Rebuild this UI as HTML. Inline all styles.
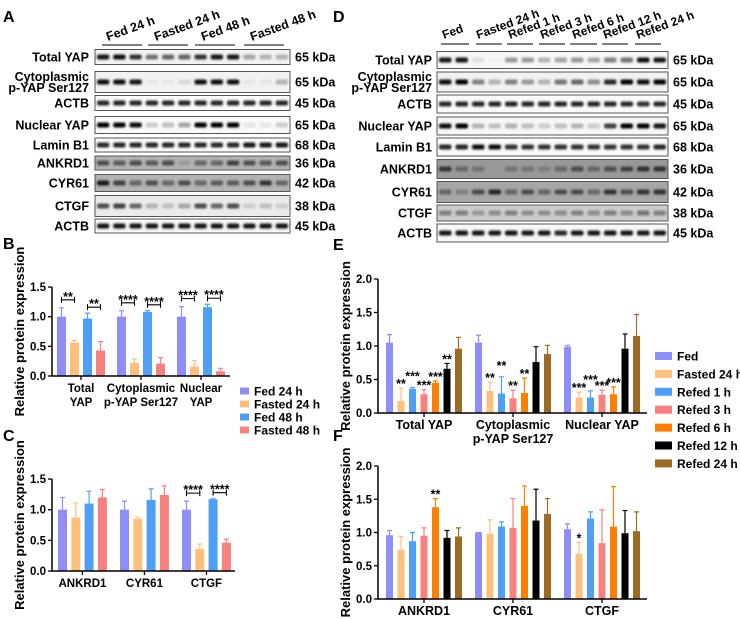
<!DOCTYPE html>
<html><head><meta charset="utf-8">
<style>
html,body{margin:0;padding:0;background:#fff;}
svg{display:block;font-family:"Liberation Sans",Arial,sans-serif;font-weight:bold;}
</style></head>
<body>
<svg id="fig" width="740" height="619" viewBox="0 0 740 619" xmlns="http://www.w3.org/2000/svg">
<defs>
<filter id="blur" x="-20%" y="-50%" width="140%" height="200%"><feGaussianBlur stdDeviation="1.1"/></filter>
</defs>
<text x="3" y="22" font-size="16">A</text>
<text x="333" y="22" font-size="16">D</text>
<text x="3" y="249" font-size="16">B</text>
<text x="333" y="250" font-size="16">E</text>
<text x="3" y="441" font-size="16">C</text>
<text x="333" y="441" font-size="16">F</text>
<g id="blots"></g>
<g id="charts"></g>
</svg>
<script>
// ---------------- Chart data ----------------
const bCategories = [["Total","YAP"],["Cytoplasmic","p-YAP Ser127"],["Nuclear","YAP"]];
const bSeriesNames = ["Fed 24 h","Fasted 24 h","Fed 48 h","Fasted 48 h"];
const bFed24 = [1.0, 1.0, 1.0];
const bFed24Err = [0.15, 0.10, 0.17];
const bFasted24 = [0.56, 0.22, 0.16];
const bFasted24Err = [0.04, 0.07, 0.10];
const bFed48 = [0.97, 1.08, 1.16];
const bFed48Err = [0.09, 0.02, 0.05];
const bFasted48 = [0.43, 0.21, 0.08];
const bFasted48Err = [0.15, 0.10, 0.05];
const bSig = [[0,0,1,"**"],[0,2,3,"**"],[1,0,1,"****"],[1,2,3,"****"],[2,0,1,"****"],[2,2,3,"****"]];

const cCategories = [["ANKRD1"],["CYR61"],["CTGF"]];
const cFed24 = [1.0, 1.0, 1.0];
const cFed24Err = [0.20, 0.14, 0.14];
const cFasted24 = [0.87, 0.85, 0.36];
const cFasted24Err = [0.24, 0.03, 0.08];
const cFed48 = [1.10, 1.16, 1.17];
const cFed48Err = [0.20, 0.18, 0.01];
const cFasted48 = [1.20, 1.24, 0.46];
const cFasted48Err = [0.13, 0.15, 0.06];
const cSig = [[2,0,1,"****"],[2,2,3,"****"]];

const eCategories = [["Total YAP"],["Cytoplasmic","p-YAP Ser127"],["Nuclear YAP"]];
const eSeriesNames = ["Fed","Fasted 24 h","Refed 1 h","Refed 3 h","Refed 6 h","Refed 12 h","Refed 24 h"];
const eFed = [1.05, 1.05, 0.99];
const eFedErr = [0.12, 0.11, 0.02];
const eFasted = [0.18, 0.33, 0.23];
const eFastedErr = [0.19, 0.13, 0.08];
const eRefed1 = [0.36, 0.29, 0.23];
const eRefed1Err = [0.02, 0.25, 0.10];
const eRefed3 = [0.28, 0.22, 0.27];
const eRefed3Err = [0.07, 0.12, 0.07];
const eRefed6 = [0.45, 0.30, 0.28];
const eRefed6Err = [0.03, 0.22, 0.11];
const eRefed12 = [0.66, 0.76, 0.96];
const eRefed12Err = [0.08, 0.23, 0.22];
const eRefed24 = [0.96, 0.88, 1.15];
const eRefed24Err = [0.17, 0.13, 0.32];
const eStars = [["","**","***","***","***","**",""],["","**","**","**","**","",""],["","***","***","***","***","",""]];

const fCategories = [["ANKRD1"],["CYR61"],["CTGF"]];
const fFed = [0.96, 1.0, 1.05];
const fFedErr = [0.07, 0.0, 0.08];
const fFasted = [0.74, 0.98, 0.68];
const fFastedErr = [0.20, 0.21, 0.17];
const fRefed1 = [0.87, 1.09, 1.21];
const fRefed1Err = [0.13, 0.07, 0.10];
const fRefed3 = [0.95, 1.07, 0.84];
const fRefed3Err = [0.12, 0.44, 0.50];
const fRefed6 = [1.38, 1.40, 1.09];
const fRefed6Err = [0.13, 0.30, 0.60];
const fRefed12 = [0.92, 1.18, 0.99];
const fRefed12Err = [0.11, 0.47, 0.34];
const fRefed24 = [0.94, 1.28, 1.02];
const fRefed24Err = [0.13, 0.23, 0.29];
const fStars = [["","","","","**","",""],["","","","","","",""],["","*","","","","",""]];

const yTicksBC = [0, 0.5, 1.0, 1.5];
const yTickLabelsBC = ["0.0","0.5","1.0","1.5"];
const yTicksEF = [0, 0.5, 1.0, 1.5, 2.0];
const yTickLabelsEF = ["0.0","0.5","1.0","1.5","2.0"];

const colors4 = ["#8e8ef9","#ffc07c","#4f9ff6","#f8807f"];
const colors7 = ["#8e8ef9","#ffc07c","#4f9ff6","#f8807f","#ff7f00","#000000","#9c6a22"];

const NS = "http://www.w3.org/2000/svg";
function el(tag, attrs, parent, text){
  const e = document.createElementNS(NS, tag);
  for (const k in attrs) e.setAttribute(k, attrs[k]);
  if (text !== undefined) e.textContent = text;
  parent.appendChild(e);
  return e;
}
const charts = document.getElementById("charts");

function drawChart(cfg, cats, series, errs, colors, yTicks, yLabels){
  const g = el("g", {}, charts);
  
  
  const yOf = v => cfg.y0 - v * cfg.unit;
  const xOf = (gi, si) => cfg.x0 + cfg.first + gi * cfg.groupPitch + si * cfg.barPitch;
  for (let s = 0; s < series.length; s++){
    for (let c = 0; c < cats.length; c++){
      const v = series[s][c], e = errs[s][c];
      const x = xOf(c, s);
      const r = el("rect", {x:x, y:yOf(v), width:cfg.barW, height:v*cfg.unit, fill:colors[s]}, g);
      
      
      const cx = x + cfg.barW/2;
      const eb = el("path", {d:`M${cx},${yOf(v)}V${yOf(v+e)}M${cx-2.5},${yOf(v+e)}H${cx+2.5}`, stroke:colors[s], "stroke-width":1.2, fill:"none"}, g);
      
      
    }
  }
  const ax = el("path", {d:`M${cfg.x0},${yOf(yTicks[yTicks.length-1])}V${cfg.y0}H${cfg.xEnd}`, stroke:"#000", "stroke-width":1.5, fill:"none"}, g);
  
  
  for (let i = 0; i < yTicks.length; i++){
    const y = yOf(yTicks[i]);
    el("line", {x1:cfg.x0-4, x2:cfg.x0, y1:y, y2:y, stroke:"#000", "stroke-width":1.3}, g);
    const t = el("text", {x:cfg.x0-6, y:y+4, "text-anchor":"end", "font-size":11.5}, g, yLabels[i]);
    
    
  }
  const span = (series.length - 1) * cfg.barPitch + cfg.barW;
  for (let c = 0; c < cats.length; c++){
    const cx = xOf(c, 0) + span/2;
    el("line", {x1:cx, x2:cx, y1:cfg.y0, y2:cfg.y0+4, stroke:"#000", "stroke-width":1.3}, g);
    for (let l = 0; l < cats[c].length; l++){
      const t = el("text", {x:cx, y:cfg.y0+16+l*14, "text-anchor":"middle", "font-size":cfg.catFont}, g, cats[c][l]);
      
      
    }
  }
  const my = (yOf(yTicks[yTicks.length-1]) + cfg.y0)/2;
  const yt = el("text", {x:cfg.titleX, y:my, "text-anchor":"middle", "font-size":13, transform:`rotate(-90 ${cfg.titleX} ${my})`}, g, "Relative protein expression");
  
  
  return {g, yOf, xOf};
}

function drawBrackets(ch, cfg, sig, series, errs){
  sig.forEach(([c, a, b, lab], i) => {
    const top = Math.max(series[a][c]+errs[a][c], series[b][c]+errs[b][c]);
    const y = ch.yOf(top) - 7 + (i%2 ? 1 : -1) * 1;
    const x1 = ch.xOf(c, a) + cfg.barW/2, x2 = ch.xOf(c, b) + cfg.barW/2;
    const p = el("path", {d:`M${x1},${y-3}V${y+3}M${x1},${y}H${x2}M${x2},${y-3}V${y+3}`, stroke:"#000", "stroke-width":1.1, fill:"none"}, ch.g);
    
    
    const t = el("text", {x:(x1+x2)/2, y:y+1, "text-anchor":"middle", "font-size":12.5}, ch.g, lab);
    
    
  });
}
function drawStars(ch, cfg, stars, series, errs){
  for (let c = 0; c < stars.length; c++) for (let s = 0; s < stars[c].length; s++){
    if (!stars[c][s]) continue;
    const top = series[s][c] + errs[s][c];
    const y = ch.yOf(top) + 6 - (s === 2 ? 13 : 6);
    const t = el("text", {x:ch.xOf(c, s) + cfg.barW/2, y:y, "text-anchor":"middle", "font-size":12.5}, ch.g, stars[c][s]);
    
    
  }
}
function legend(names, colors, x, y0, pitch, sw, sh, fs, name){
  const g = el("g", {}, charts);
  
  
  names.forEach((n, i) => {
    const y = y0 + i*pitch;
    const r = el("rect", {x:x, y:y-sh/2, width:sw, height:sh, fill:colors[i]}, g);
    
    
    const t = el("text", {x:x+sw+5, y:y+4.5, "font-size":fs}, g, n);
    
    
  });
}

const cfgB = {name:"chart-b", key:"b", x0:52, xEnd:230, y0:376, unit:59.3, first:5, groupPitch:60, barPitch:13, barW:9, titleX:24, catFont:11.5};
const sB = [bFed24,bFasted24,bFed48,bFasted48], eB = [bFed24Err,bFasted24Err,bFed48Err,bFasted48Err];
const chB = drawChart(cfgB, bCategories, sB, eB, colors4, yTicksBC, yTickLabelsBC);
drawBrackets(chB, cfgB, bSig, sB, eB);
legend(bSeriesNames, colors4, 240, 391, 13, 9, 7, 12, "legend-b");

const cfgC = {name:"chart-c", key:"c", x0:52, xEnd:235, y0:571, unit:61.3, first:6, groupPitch:62, barPitch:13.3, barW:9, titleX:24, catFont:11.5};
const sC = [cFed24,cFasted24,cFed48,cFasted48], eC = [cFed24Err,cFasted24Err,cFed48Err,cFasted48Err];
const chC = drawChart(cfgC, cCategories, sC, eC, colors4, yTicksBC, yTickLabelsBC);
drawBrackets(chC, cfgC, cSig, sC, eC);

const cfgE = {name:"chart-e", key:"e", x0:378, xEnd:647, y0:413, unit:67, first:8, groupPitch:89, barPitch:11.5, barW:7, titleX:350, catFont:12.5};
const sE = [eFed,eFasted,eRefed1,eRefed3,eRefed6,eRefed12,eRefed24], eE = [eFedErr,eFastedErr,eRefed1Err,eRefed3Err,eRefed6Err,eRefed12Err,eRefed24Err];
const chE = drawChart(cfgE, eCategories, sE, eE, colors7, yTicksEF, yTickLabelsEF);
drawStars(chE, cfgE, eStars, sE, eE);
legend(eSeriesNames, colors7, 655, 356, 17.9, 17, 8, 12, "legend-e");

const cfgF = {name:"chart-f", key:"f", x0:378, xEnd:647, y0:599, unit:66.5, first:8, groupPitch:89, barPitch:11.5, barW:7, titleX:350, catFont:12.5};
const sF = [fFed,fFasted,fRefed1,fRefed3,fRefed6,fRefed12,fRefed24], eF = [fFedErr,fFastedErr,fRefed1Err,fRefed3Err,fRefed6Err,fRefed12Err,fRefed24Err];
const chF = drawChart(cfgF, fCategories, sF, eF, colors7, yTicksEF, yTickLabelsEF);
drawStars(chF, cfgF, fStars, sF, eF);

// ---------------- Western blots ----------------
const blots = document.getElementById("blots");
const aHeaders = ["Fed 24 h","Fasted 24 h","Fed 48 h","Fasted 48 h"];
const aRows = [
 ["Total YAP","65 kDa",57,15,0.05,[.9,.95,.8,.55,.6,.6,.8,.9,.9,.35,.3,.3]],
 ["Cytoplasmic|p-YAP Ser127","65 kDa",82,21,0.05,[.95,.95,.9,.1,.1,.15,.95,.95,.95,.1,.1,.3]],
 ["ACTB","45 kDa",103,15,0.02,[.85,.85,.85,.85,.85,.85,.85,.85,.85,.85,.85,.85]],
 ["Nuclear YAP","65 kDa",125,17,0.02,[1,1,.95,.2,.25,.35,1,1,1,.1,.1,.2]],
 ["Lamin B1","68 kDa",145,14,0.02,[.85,.85,.85,.85,.85,.85,.85,.85,.85,.9,.9,.9]],
 ["ANKRD1","36 kDa",163,14,0.3,[.7,.65,.7,.65,.7,.4,.6,.6,.75,.7,.65,.7]],
 ["CYR61","42 kDa",183,17,0.3,[.9,.75,.6,.7,.6,.7,.6,.65,.65,.7,.8,.6]],
 ["CTGF","38 kDa",206,21,0.08,[.7,.75,.6,.3,.25,.35,.7,.6,.7,.2,.25,.2]],
 ["ACTB","45 kDa",226,14,0.03,[.9,.9,.9,.9,.9,.9,.9,.9,.9,.9,.9,.9]]
];
const dHeaders = ["Fed","Fasted 24 h","Refed 1 h","Refed 3 h","Refed 6 h","Refed 12 h","Refed 24 h"];
const dRows = [
 ["Total YAP","65 kDa",60,17,0.03,[.9,.9,.12,.05,.4,.4,.3,.35,.4,.35,.5,.55,.95,.9]],
 ["Cytoplasmic|p-YAP Ser127","65 kDa",82,20,0.05,[.95,1,.5,.3,.5,.4,.3,.55,.6,.45,.85,1,.95,1]],
 ["ACTB","45 kDa",104,18,0.02,[.85,.85,.85,.85,.85,.85,.85,.85,.85,.85,.85,.85,.8,.85]],
 ["Nuclear YAP","65 kDa",126,18,0.03,[.95,1,.3,.25,.3,.25,.2,.25,.3,.2,.75,1,1,.9]],
 ["Lamin B1","68 kDa",147,18,0.02,[.85,.85,.95,.95,.8,.8,.8,.8,.8,.8,.8,.8,.8,.85]],
 ["ANKRD1","36 kDa",169,19,0.4,[.8,.6,.55,.4,.55,.55,.5,.6,.7,.6,.7,.75,.8,.8]],
 ["CYR61","42 kDa",192,21,0.35,[.6,.5,.7,.85,.6,.7,.6,.7,.7,.6,.8,.7,.8,.8]],
 ["CTGF","38 kDa",213,16,0.2,[.5,.5,.4,.45,.5,.45,.45,.45,.5,.45,.5,.45,.55,.5]],
 ["ACTB","45 kDa",233,18,0.03,[.9,.9,.9,.9,.9,.9,.9,.85,.9,.9,.9,.9,.9,.9]]
];
function drawBlot(rows, headers, x0, x1, labelRight, kdaX, prefix, headerX, headerY, lineY, lineSegs, hfs){
  const g = el("g", {}, blots);
  
  
  rows.forEach((r) => {
    const [label, kda, cy, h, bg, lanes] = r;
    const top = cy - h/2;
    const bgc = Math.round(255*(1-bg));
    el("rect", {x:x0, y:top, width:x1-x0, height:h, fill:`rgb(${bgc},${bgc},${bgc})`, stroke:"#555", "stroke-width":1}, g);
    const lw = (x1-x0)/lanes.length;
    lanes.forEach((v, li) => {
      const c = Math.round(255*(1-v));
      const b = el("rect", {x:x0+li*lw+2, y:cy-2.5, width:lw-4, height:5, rx:2, fill:`rgb(${c},${c},${c})`, filter:"url(#blur)"}, g);
      
      
    });
    const parts = label.split("|");
    parts.forEach((p, pi) => {
      const t = el("text", {x:labelRight, y:cy+4.5 + (parts.length>1 ? (pi-0.5)*11 : 0), "text-anchor":"end", "font-size":12.5}, g, p);
      
      
    });
    const k = el("text", {x:kdaX, y:cy+4.5, "font-size":12.5}, g, kda);
    
    
  });
  headers.forEach((hname, i) => {
    const t = el("text", {x:headerX[i], y:headerY, "font-size":hfs, transform:`rotate(-20 ${headerX[i]} ${headerY})`}, g, hname);
    
    
    el("line", {x1:lineSegs[i][0], x2:lineSegs[i][1], y1:lineY, y2:lineY, stroke:"#333", "stroke-width":1.2}, g);
  });
}
drawBlot(aRows, aHeaders, 95, 290, 89, 295, "a",
  [108,156,203,252], 41, 45, [[102,142],[148,188],[195,235],[244,284]], 12.5);
drawBlot(dRows, dHeaders, 437, 668, 432, 673, "d",
  [444,478,510,542,574,605,638], 39, 44, [[441,469],[476,502],[507,533],[539,565],[570,597],[602,628],[635,661]], 12);
</script>
</body></html>
